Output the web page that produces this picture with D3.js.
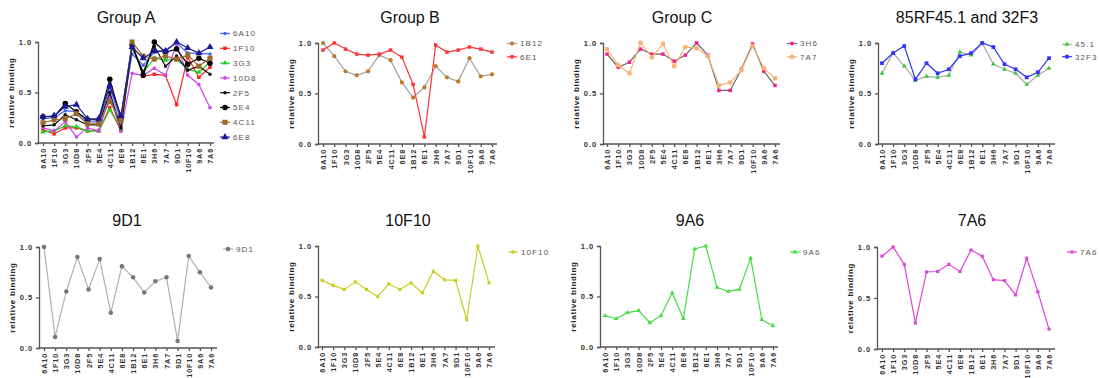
<!DOCTYPE html>
<html>
<head>
<meta charset="utf-8">
<script src="https://cdn.jsdelivr.net/npm/d3@7"></script>
<style>
  body { margin: 0; background: #fff; }
  svg { display: block; }
</style>
</head>
<body>
<svg></svg>
<script>
// categories on every x axis
var categories = ["6A10", "1F10", "3G3", "10D8", "2F5", "5E4", "4C11", "6E8",
                  "1B12", "6E1", "3H6", "7A7", "9D1", "10F10", "9A6", "7A6"];
var yTicks = [0, 0.5, 1.0];

// Group A
var a6A10 = [0.24, 0.25, 0.32, 0.31, 0.21, 0.21, 0.55, 0.22, 0.88, 0.77, 0.90, 0.92, 0.99, 0.89, 0.89, 0.88];
var a1F10 = [0.13, 0.09, 0.15, 0.15, 0.12, 0.12, 0.35, 0.12, 1.00, 0.66, 0.68, 0.67, 0.38, 0.85, 0.65, 0.75];
var a3G3  = [0.11, 0.12, 0.17, 0.16, 0.12, 0.12, 0.33, 0.14, 0.95, 0.70, 0.84, 0.82, 0.83, 0.73, 0.70, 0.80];
var a10D8 = [0.15, 0.12, 0.21, 0.06, 0.15, 0.12, 0.46, 0.12, 0.69, 0.67, 0.74, 0.67, 0.98, 0.67, 0.58, 0.35];
var a2F5  = [0.17, 0.18, 0.28, 0.23, 0.18, 0.18, 0.50, 0.15, 0.96, 0.70, 0.96, 0.76, 0.86, 0.72, 0.76, 0.68];
var a5E4  = [0.26, 0.26, 0.39, 0.31, 0.23, 0.23, 0.63, 0.25, 0.97, 0.67, 1.00, 0.90, 0.93, 0.78, 0.84, 0.79];
var a4C11 = [0.20, 0.23, 0.24, 0.29, 0.19, 0.19, 0.41, 0.22, 1.00, 0.86, 0.83, 0.86, 0.83, 0.87, 0.76, 0.84];
var a6E8  = [0.26, 0.27, 0.36, 0.38, 0.24, 0.24, 0.57, 0.27, 0.95, 0.84, 0.91, 0.91, 1.00, 0.94, 0.89, 0.95];

// Group B
var b1B12 = [1.00, 0.87, 0.72, 0.68, 0.72, 0.88, 0.83, 0.61, 0.46, 0.56, 0.77, 0.66, 0.62, 0.85, 0.67, 0.69];
var b6E1  = [0.93, 1.00, 0.94, 0.89, 0.88, 0.89, 0.93, 0.86, 0.59, 0.07, 0.98, 0.91, 0.93, 0.96, 0.94, 0.91];

// Group C
var c3H6 = [0.89, 0.76, 0.81, 0.94, 0.89, 0.89, 0.82, 0.88, 1.00, 0.88, 0.53, 0.53, 0.74, 0.99, 0.72, 0.58];
var c7A7 = [0.94, 0.78, 0.70, 1.00, 0.86, 0.99, 0.77, 0.96, 0.95, 0.87, 0.58, 0.61, 0.73, 0.97, 0.75, 0.65];

// 85RF45.1 and 32F3
var d451  = [0.70, 0.90, 0.77, 0.63, 0.67, 0.66, 0.68, 0.91, 0.88, 1.00, 0.79, 0.74, 0.70, 0.59, 0.68, 0.75];
var d32F3 = [0.80, 0.90, 0.97, 0.64, 0.80, 0.70, 0.74, 0.87, 0.90, 1.00, 0.96, 0.79, 0.74, 0.66, 0.71, 0.85];

// single antibodies
var s9D1  = [1.00, 0.11, 0.56, 0.90, 0.58, 0.88, 0.35, 0.81, 0.70, 0.55, 0.66, 0.70, 0.07, 0.91, 0.75, 0.60];
var s10F10 = [0.66, 0.61, 0.57, 0.645, 0.57, 0.50, 0.625, 0.57, 0.635, 0.535, 0.75, 0.665, 0.66, 0.27, 1.00, 0.635];
var s9A6  = [0.31, 0.28, 0.34, 0.36, 0.24, 0.31, 0.535, 0.28, 0.97, 1.00, 0.59, 0.55, 0.57, 0.88, 0.27, 0.21];
var s7A6  = [0.91, 1.00, 0.83, 0.255, 0.755, 0.76, 0.83, 0.76, 0.97, 0.91, 0.68, 0.67, 0.53, 0.89, 0.56, 0.195];

var svg = d3.select("svg")
  .attr("width", 1100)
  .attr("height", 378);

var font = "'Liberation Sans', Arial, sans-serif";

var panels = [
  { title: "Group A", ax: 38, top: 42, bot: 143, x0: 43, x1: 210, xEnd: 214, tx: 126, ty: 23, lx: 225, ly: 33.5, lgap: 14.8,
    series: [
      { name: "6A10", data: a6A10, color: "#4466ff", shape: d3.symbolCircle, size: 10 },
      { name: "1F10", data: a1F10, color: "#ff2222", shape: d3.symbolSquare, size: 12 },
      { name: "3G3",  data: a3G3,  color: "#22cc22", shape: d3.symbolTriangle, size: 12 },
      { name: "10D8", data: a10D8, color: "#cc44ee", shape: d3.symbolCircle, size: 10 },
      { name: "2F5",  data: a2F5,  color: "#111111", shape: d3.symbolCircle, size: 10 },
      { name: "5E4",  data: a5E4,  color: "#000000", shape: d3.symbolCircle, size: 24 },
      { name: "4C11", data: a4C11, color: "#9a6a2c", shape: d3.symbolSquare, size: 26 },
      { name: "6E8",  data: a6E8,  color: "#1a1a99", shape: d3.symbolTriangle, size: 22 }
    ] },
  { title: "Group B", ax: 318, top: 43, bot: 144, x0: 323, x1: 492, xEnd: 497, tx: 410, ty: 23, lx: 512, ly: 43.5, lgap: 13.3,
    series: [
      { name: "1B12", data: b1B12, color: "#c0792a", line: "#a0a0a0", shape: d3.symbolCircle, size: 14 },
      { name: "6E1",  data: b6E1,  color: "#ff3333", shape: d3.symbolSquare, size: 12 }
    ] },
  { title: "Group C", ax: 603, top: 43, bot: 144, x0: 607, x1: 775, xEnd: 780, tx: 682, ty: 23, lx: 792, ly: 43.5, lgap: 13.3,
    series: [
      { name: "3H6", data: c3H6, color: "#ff1a8c", line: "#666666", shape: d3.symbolSquare, size: 12 },
      { name: "7A7", data: c7A7, color: "#f7b375", shape: d3.symbolCircle, size: 18 }
    ] },
  { title: "85RF45.1 and 32F3", ax: 878, top: 43, bot: 144, x0: 882, x1: 1049, xEnd: 1055, tx: 967, ty: 23, lx: 1067, ly: 44.3, lgap: 12.4,
    series: [
      { name: "45.1", data: d451,  color: "#33cc33", line: "#a8a8a8", shape: d3.symbolTriangle, size: 10 },
      { name: "32F3", data: d32F3, color: "#3333ff", shape: d3.symbolSquare, size: 14 }
    ] },
  { title: "9D1", ax: 39, top: 247, bot: 348, x0: 44, x1: 211, xEnd: 217, tx: 127, ty: 226, lx: 228, ly: 249, lgap: 13,
    series: [
      { name: "9D1", data: s9D1, color: "#777777", line: "#b0b0b0", shape: d3.symbolCircle, size: 16 }
    ] },
  { title: "10F10", ax: 318, top: 246, bot: 347, x0: 322, x1: 489, xEnd: 495, tx: 408, ty: 226, lx: 513, ly: 252, lgap: 13,
    series: [
      { name: "10F10", data: s10F10, color: "#cccc22", shape: d3.symbolSquare, size: 10 }
    ] },
  { title: "9A6", ax: 600, top: 246, bot: 347, x0: 605, x1: 773, xEnd: 778, tx: 690, ty: 226, lx: 795, ly: 252, lgap: 13,
    series: [
      { name: "9A6", data: s9A6, color: "#44dd44", shape: d3.symbolTriangle, size: 10 }
    ] },
  { title: "7A6", ax: 877, top: 247, bot: 349, x0: 882, x1: 1049, xEnd: 1055, tx: 972, ty: 226, lx: 1072, ly: 252, lgap: 13,
    series: [
      { name: "7A6", data: s7A6, color: "#dd44dd", shape: d3.symbolSquare, size: 10 }
    ] }
];

function drawPanel(p) {
  var g = svg.append("g");
  var x = d3.scalePoint().domain(categories).range([p.x0, p.x1]);
  var y = d3.scaleLinear().domain([0, 1]).range([p.bot, p.top]);

  g.append("text")
    .attr("x", p.tx)
    .attr("y", p.ty)
    .attr("text-anchor", "middle")
    .style("font-family", font)
    .style("font-size", "16px")
    .attr("fill", "#111")
    .text(p.title);

  // y axis
  var ya = g.append("g")
    .attr("transform", "translate(" + p.ax + ",0)")
    .call(d3.axisLeft(y).tickValues(yTicks).tickFormat(d3.format(".1f")).tickSize(3).tickPadding(3));
  ya.selectAll("text")
    .style("font-family", font).style("font-size", "7.5px").style("font-weight", "bold")
    .style("letter-spacing", "0.9px").attr("fill", "#333");

  // x axis
  var xa = g.append("g")
    .attr("transform", "translate(0," + p.bot + ")")
    .call(d3.axisBottom(x).tickSize(3).tickPadding(2));
  xa.select(".domain").remove();
  xa.selectAll("text")
    .attr("transform", "rotate(-90)")
    .attr("text-anchor", "end")
    .attr("x", -5)
    .attr("y", 0)
    .attr("dy", "0.35em")
    .style("font-family", font).style("font-size", "7.3px").style("font-weight", "bold")
    .style("letter-spacing", "0.8px").attr("fill", "#333");

  g.append("line")
    .attr("x1", p.ax).attr("x2", p.xEnd)
    .attr("y1", p.bot).attr("y2", p.bot)
    .attr("stroke", "#555").attr("stroke-width", 1.3);

  g.selectAll(".domain, .tick line").attr("stroke", "#555").attr("stroke-width", 1.3);

  g.append("text")
    .attr("transform", "translate(" + (p.ax - 24) + "," + ((p.top + p.bot) / 2) + ") rotate(-90)")
    .attr("text-anchor", "middle")
    .style("font-family", font).style("font-size", "8px").style("font-weight", "bold")
    .style("letter-spacing", "0.7px").attr("fill", "#222")
    .text("relative binding");

  var line = d3.line()
    .x(function(d, i) { return x(categories[i]); })
    .y(function(d) { return y(d); });

  p.series.forEach(function(s, k) {
    g.append("path")
      .attr("d", line(s.data))
      .attr("fill", "none")
      .attr("stroke", s.line || s.color)
      .attr("stroke-width", 1.2);

    g.selectAll(".m" + k)
      .data(s.data)
      .enter()
      .append("path")
      .attr("d", d3.symbol().type(s.shape).size(s.size))
      .attr("transform", function(d, i) {
        return "translate(" + x(categories[i]) + "," + y(d) + ")";
      })
      .attr("fill", s.color);

    // legend entry
    var ly = p.ly + k * p.lgap;
    g.append("line")
      .attr("x1", p.lx - 5).attr("x2", p.lx + 5)
      .attr("y1", ly).attr("y2", ly)
      .attr("stroke", s.line || s.color).attr("stroke-width", 1.2);
    g.append("path")
      .attr("d", d3.symbol().type(s.shape).size(s.size))
      .attr("transform", "translate(" + p.lx + "," + ly + ")")
      .attr("fill", s.color);
    g.append("text")
      .attr("x", p.lx + 8)
      .attr("y", ly)
      .attr("dy", "0.35em")
      .style("font-family", font).style("font-size", "8px")
      .style("letter-spacing", "1.1px").attr("fill", "#555")
      .text(s.name);
  });
}

panels.forEach(drawPanel);
</script>
</body>
</html>
